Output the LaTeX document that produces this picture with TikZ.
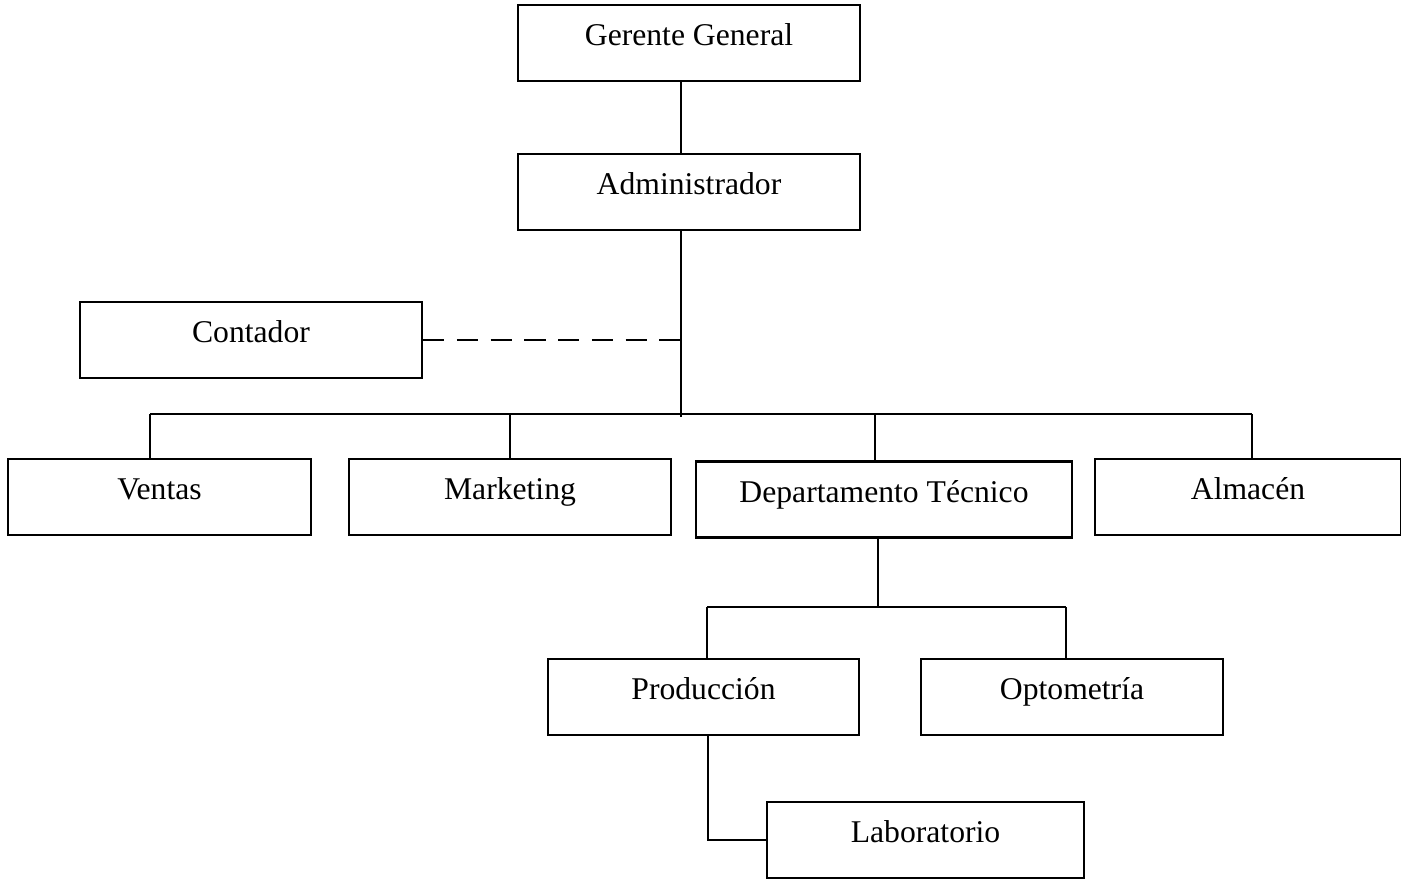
\documentclass[tikz,border=0pt]{standalone}
\usepackage{fontspec}
\setmainfont{Liberation Serif}

\tikzset{
  unit/.style={draw, line width=0.6pt, font=\fontsize{9}{10}\selectfont,
    minimum height=0.76cm, text height=6pt, text depth=4.5pt, inner sep=0pt},
  link/.style={line width=0.6pt},
}

\begin{document}
\begin{tikzpicture}[x=0.01cm, y=-0.01cm]

\useasboundingbox (0,0) rectangle (1401,878);

% top
\node[unit, minimum width=3.42cm] (gg) at (689, 43) {Gerente General};
\node[unit, minimum width=3.42cm] (adm) at (689, 192) {Administrador};
\node[unit, minimum width=3.42cm] (cont) at (251, 340) {Contador};

% areas
\node[unit, minimum width=3.03cm] (ven) at (159.5, 497) {Ventas};
\node[unit, minimum width=3.22cm] (mkt) at (510, 497) {Marketing};
\node[unit, minimum width=3.76cm] (dep) at (884, 499.5) {Departamento T\'ecnico};
\node[unit, minimum width=3.06cm] (alm) at (1248, 497) {Almac\'en};

% tecnico
\node[unit, minimum width=3.11cm] (prod) at (703.5, 697) {Producci\'on};
\node[unit, minimum width=3.02cm] (opt) at (1072, 697) {Optometr\'ia};
\node[unit, minimum width=3.17cm] (lab) at (925.5, 840) {Laboratorio};

\coordinate (trunk) at (681, 417);
\coordinate (barL) at (150, 414);
\coordinate (barR) at (1252, 414);
\coordinate (subL) at (707, 607);
\coordinate (subR) at (1066, 607);

% gerente - admin - areas
\draw[link] (gg.south -| trunk) -- (adm.north -| trunk);
\draw[link] (adm.south -| trunk) -- (trunk);
\draw[link, dash pattern=on 6pt off 3.6pt] (cont.east) -- (cont.east -| trunk);
\draw[link] (barL) -- (barR);
\draw[link] (barL) -- (ven.north -| barL);
\draw[link] (mkt.north |- barL) -- (mkt.north);
\draw[link] (875, 414) -- (dep.north -| 875, 0);
\draw[link] (barR) -- (alm.north -| barR);

% dept tecnico
\draw[link] (dep.south -| 878, 0) -- (878, 607);
\draw[link] (subL) -- (subR);
\draw[link] (subL) -- (prod.north -| subL);
\draw[link] (subR) -- (opt.north -| subR);
\draw[link] (prod.south -| 708, 0) |- (lab.west);

\end{tikzpicture}
\end{document}
